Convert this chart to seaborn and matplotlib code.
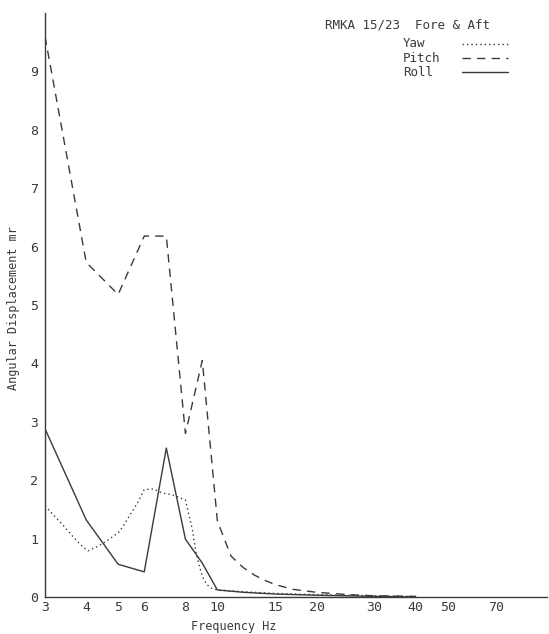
import matplotlib
matplotlib.use("Agg")
import matplotlib.pyplot as plt
from matplotlib.lines import Line2D
from matplotlib.ticker import FixedLocator, FixedFormatter, NullLocator
import pandas as pd
import seaborn as sns

# Fore & aft response of RMKA 15/23: angular displacement (mr) vs frequency (Hz)
yaw_hz = [3, 3.4, 3.65, 3.9, 4.05, 4.35, 4.65, 5.05, 5.4, 5.75, 6, 6.4, 6.8, 7.3,
          8, 8.2, 8.4, 8.6, 8.8, 9, 9.3, 9.6, 10, 12, 15, 20, 25, 30, 40]
yaw_mr = [1.56, 1.23, 1.03, 0.86, 0.79, 0.87, 0.97, 1.12, 1.38, 1.63, 1.84, 1.85, 1.78, 1.75,
          1.66, 1.40, 1.15, 0.78, 0.55, 0.35, 0.21, 0.15, 0.12, 0.09, 0.06, 0.04, 0.03, 0.02, 0.01]

pitch_hz = [3, 4, 5, 6, 7, 8, 9, 10, 11, 12, 13, 14, 15, 17, 20, 25, 30, 40]
pitch_mr = [9.6, 5.73, 5.18, 6.18, 6.18, 2.8, 4.05, 1.3, 0.7, 0.5, 0.37, 0.28, 0.21, 0.13,
            0.08, 0.04, 0.02, 0.01]

roll_hz = [3, 4, 5, 6, 7, 8, 9, 10, 12, 15, 20, 30, 40]
roll_mr = [2.88, 1.32, 0.56, 0.43, 2.55, 0.99, 0.58, 0.12, 0.08, 0.05, 0.03, 0.01, 0.0]

x_ticks = [3, 4, 5, 6, 8, 10, 15, 20, 30, 40, 50, 70]
y_ticks = [0, 1, 2, 3, 4, 5, 6, 7, 8, 9]
series_names = ["Yaw", "Pitch", "Roll"]

sns.set_theme(style="white")
plt.rcParams["font.family"] = ["DejaVu Sans Mono", "DejaVu Sans"]

df = pd.concat([
    pd.DataFrame({"Frequency": yaw_hz, "Displacement": yaw_mr, "Axis": "Yaw"}),
    pd.DataFrame({"Frequency": pitch_hz, "Displacement": pitch_mr, "Axis": "Pitch"}),
    pd.DataFrame({"Frequency": roll_hz, "Displacement": roll_mr, "Axis": "Roll"}),
], ignore_index=True)

ink = "#3a3a3a"
line_dashes = {"Yaw": (1, 2.2), "Pitch": (6, 4.5), "Roll": ""}

fig = plt.figure(figsize=(5.49, 6.34), dpi=100)
fig.patch.set_facecolor("white")
ax = fig.add_axes([0.082, 0.0584, 0.9144, 0.9211])
ax.set_facecolor("white")

sns.lineplot(data=df, x="Frequency", y="Displacement", hue="Axis", style="Axis",
             hue_order=series_names, style_order=series_names,
             palette={k: ink for k in series_names}, dashes=line_dashes,
             linewidth=1.0, sort=False, estimator=None, legend=False, ax=ax)

ax.set_xscale("log")
ax.set_xlim(3, 100)
ax.set_ylim(0, 10)
ax.xaxis.set_major_locator(FixedLocator(x_ticks))
ax.xaxis.set_major_formatter(FixedFormatter([str(t) for t in x_ticks]))
ax.xaxis.set_minor_locator(NullLocator())
ax.yaxis.set_major_locator(FixedLocator(y_ticks))
ax.yaxis.set_major_formatter(FixedFormatter([str(t) for t in y_ticks]))

for side in ("top", "right"):
    ax.spines[side].set_visible(False)
for side in ("left", "bottom"):
    ax.spines[side].set_color(ink)
    ax.spines[side].set_linewidth(1.0)

ax.tick_params(axis="both", direction="in", length=4, width=1, color=ink,
               labelcolor=ink, labelsize=9.5)
ax.tick_params(axis="x", pad=3)
ax.tick_params(axis="y", pad=5)

ax.set_xlabel("Frequency Hz", fontsize=8.5, color=ink)
ax.set_ylabel("Angular Displacement mr", fontsize=8.5, color=ink)
ax.xaxis.set_label_coords(0.375, -0.04)
ax.yaxis.set_label_coords(-0.05, 0.495)

# Key in the upper right corner: title, then label with line sample
fig.text(0.592, 0.9606, "RMKA 15/23  Fore & Aft", fontsize=9, color=ink,
         ha="left", va="center")
key_rows = [0.9306, 0.9085, 0.8864]
for name, yk in zip(series_names, key_rows):
    fig.text(0.734, yk, name, fontsize=9, color=ink, ha="left", va="center")
    style = line_dashes[name]
    line = Line2D([0.8415, 0.9253], [yk, yk], transform=fig.transFigure,
                  color=ink, linewidth=1.0)
    if style:
        line.set_dashes(style)
    fig.add_artist(line)

fig.savefig("out.png", dpi=100)
